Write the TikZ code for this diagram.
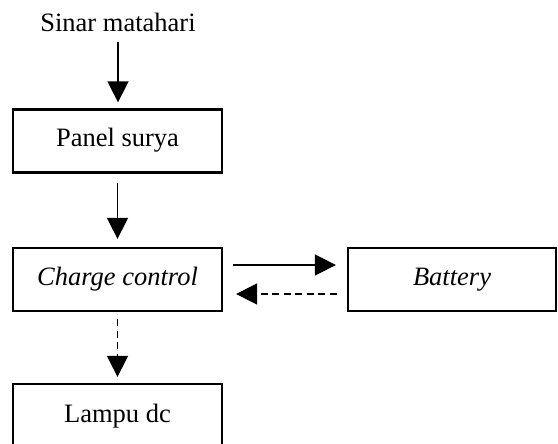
\documentclass[tikz,border=0pt]{standalone}
\usepackage{fontspec}
\setmainfont{Liberation Serif}
\usetikzlibrary{arrows.meta}
\begin{document}
\begin{tikzpicture}[x=1pt,y=-1pt,
  every node/.style={font=\fontsize{26.5}{32}\selectfont},
  box/.style={draw,line width=2.3pt,rectangle,minimum width=209pt,minimum height=63pt,
    text height=18pt,text depth=6pt,inner sep=0pt},
  arr/.style={line width=1.6pt,-{Triangle[length=21pt,width=21pt]}},
  darr/.style={arr,dash pattern=on 7pt off 4.5pt}]
\useasboundingbox (0,0) rectangle (558,444);
\node[anchor=base] (sinar) at (118,32) {Sinar matahari};
\node[box] (panel) at (117.5,141) {Panel surya};
\node[box] (charge) at (117.5,279.5) {\itshape Charge control};
\node[box,minimum width=208pt] (battery) at (452,279.5) {\itshape Battery};
\node[box,minimum height=64pt] (lampu) at (117.5,416) {Lampu dc};
\draw[arr] ([yshift=-10pt]sinar.base) -- ([yshift=6pt]sinar.base |- panel.north);
\draw[arr] ([yshift=-9pt]panel.south) -- ([yshift=8pt]charge.north);
\draw[arr] ([xshift=10pt,yshift=14.5pt]charge.east) -- ([xshift=-11pt,yshift=14.5pt]battery.west);
\draw[darr] ([xshift=-10pt,yshift=-14.5pt]battery.west) -- ([xshift=13pt,yshift=-14.5pt]charge.east);
\draw[darr] ([yshift=-7pt]charge.south) -- ([yshift=6pt]lampu.north);
\end{tikzpicture}
\end{document}
